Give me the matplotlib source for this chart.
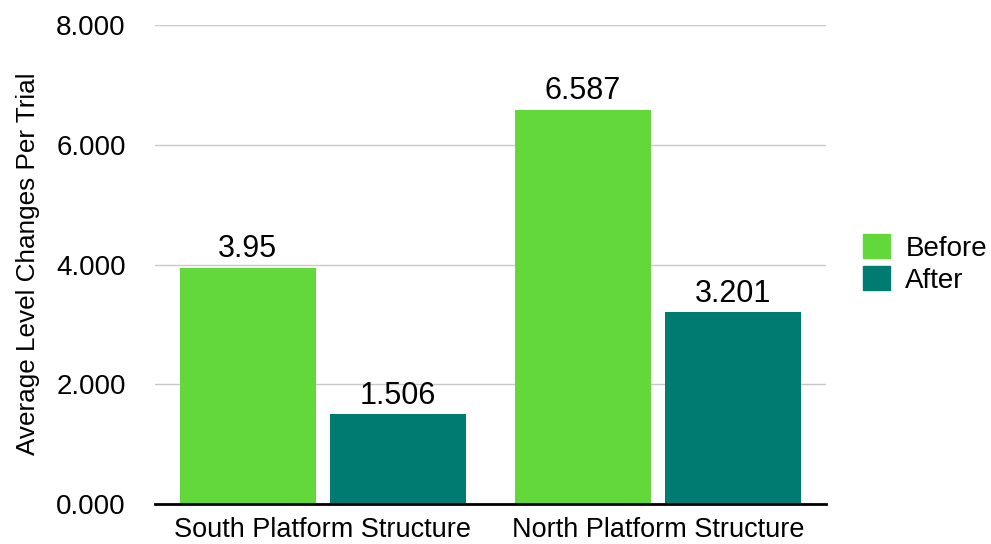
import matplotlib
matplotlib.use("Agg")
import matplotlib.pyplot as plt
import numpy as np
from matplotlib.patches import Patch

categories = ["South Platform Structure", "North Platform Structure"]
series_names = ["Before", "After"]
before = [3.95, 6.587]
after = [1.506, 3.201]
before_labels = ["3.95", "6.587"]
after_labels = ["1.506", "3.201"]
yticks = [0, 2, 4, 6, 8]

plt.rcParams['font.family'] = ['Liberation Sans', 'DejaVu Sans']

c_before = "#62D83A"
c_after = "#007B72"

fig = plt.figure(figsize=(9.91, 5.44), dpi=100)
ax = fig.add_axes([0.1564, 0.0735, 0.6771, 0.8805])

x = np.arange(len(categories))
w = 0.405
off = 0.224
b1 = ax.bar(x - off, before, w, color=c_before, zorder=3)
b2 = ax.bar(x + off, after, w, color=c_after, zorder=3)

for rect, lab in zip(b1, before_labels):
    ax.text(rect.get_x() + rect.get_width() / 2, rect.get_height() + 0.17, lab,
            ha='center', va='baseline', fontsize=22)
for rect, lab in zip(b2, after_labels):
    ax.text(rect.get_x() + rect.get_width() / 2, rect.get_height() + 0.17, lab,
            ha='center', va='baseline', fontsize=22)

ax.set_xlim(-0.5, 1.5)
ax.set_ylim(0, 8)
ax.set_yticks(yticks)
ax.set_yticklabels([f"{v:.3f}" for v in yticks], fontsize=20)
ax.set_xticks(x)
ax.set_xticklabels(categories, fontsize=19.5)
ax.tick_params(axis='both', length=0)
ax.tick_params(axis='y', pad=21)
ax.tick_params(axis='x', pad=9)
ax.yaxis.grid(True, color="#c8c8c8", linewidth=1, zorder=0)
for s in ['top', 'right', 'left']:
    ax.spines[s].set_visible(False)
ax.spines['bottom'].set_linewidth(2)
ax.spines['bottom'].set_color('black')
ax.spines['bottom'].set_zorder(4)
fig.text(28 / 991, 1 - 264 / 544, "Average Level Changes Per Trial", rotation=90,
         ha='center', va='center', fontsize=18.8)

handles = [Patch(color=c_before), Patch(color=c_after)]
fig.legend(handles, series_names, loc='center left', bbox_to_anchor=(0.871, 0.515),
           frameon=False, fontsize=20, handlelength=0.97, handleheight=0.97,
           handletextpad=0.55, labelspacing=0.15, borderaxespad=0, borderpad=0)

fig.savefig("out.png", dpi=100)
